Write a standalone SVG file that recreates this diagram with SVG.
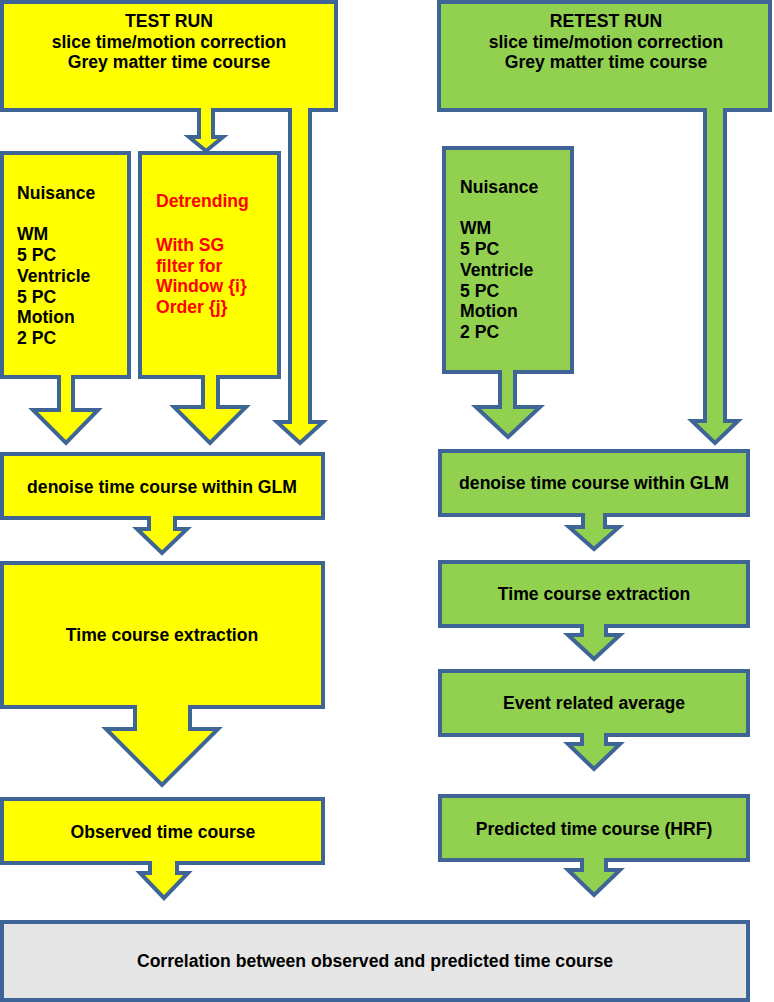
<svg xmlns="http://www.w3.org/2000/svg" width="774" height="1002" viewBox="0 0 774 1002">
<style>
  .box{stroke:#3f6597;stroke-width:4;stroke-linejoin:miter}
  .y{fill:#ffff00}
  .g{fill:#92d050}
  .gr{fill:#e6e6e6}
  text{font-family:"Liberation Sans",Arial,sans-serif;font-weight:bold;font-size:17.6px;fill:#000}
  .c{text-anchor:middle}
  .red{fill:#ff0000}
  .arr{stroke:#3f6597;stroke-width:4;stroke-linejoin:miter;stroke-miterlimit:10}
</style>
<rect x="0" y="0" width="774" height="1002" fill="#ffffff"/>

<g id="test-run">
  <rect class="box y" x="2" y="2" width="334" height="108"/>
  <text class="c" x="169" y="27">TEST RUN</text>
  <text class="c" x="169" y="48">slice time/motion correction</text>
  <text class="c" x="169" y="68">Grey matter time course</text>
</g>
<g id="nuisance-test">
  <rect class="box y" x="2" y="153" width="127" height="224"/>
  <text x="17" y="199">Nuisance</text>
  <text x="17" y="240">WM</text>
  <text x="17" y="261">5 PC</text>
  <text x="17" y="282">Ventricle</text>
  <text x="17" y="303">5 PC</text>
  <text x="17" y="323">Motion</text>
  <text x="17" y="344">2 PC</text>
</g>
<g id="detrending">
  <rect class="box y" x="140" y="153" width="139" height="224"/>
  <text class="red" x="156" y="207">Detrending</text>
  <text class="red" x="156" y="251">With SG</text>
  <text class="red" x="156" y="272">filter for</text>
  <text class="red" x="156" y="292">Window {i}</text>
  <text class="red" x="156" y="313">Order {j}</text>
</g>
<g id="denoise-test">
  <rect class="box y" x="2" y="454" width="321" height="64"/>
  <text class="c" x="162" y="493">denoise time course within GLM</text>
</g>
<g id="extraction-test">
  <rect class="box y" x="2" y="563" width="321" height="144"/>
  <text class="c" x="162" y="641">Time course extraction</text>
</g>
<g id="observed">
  <rect class="box y" x="2" y="799" width="321" height="64"/>
  <text class="c" x="163" y="838">Observed time course</text>
</g>

<g id="retest-run">
  <rect class="box g" x="439" y="2" width="331" height="108"/>
  <text class="c" x="606" y="27">RETEST RUN</text>
  <text class="c" x="606" y="48">slice time/motion correction</text>
  <text class="c" x="606" y="68">Grey matter time course</text>
</g>
<g id="nuisance-retest">
  <rect class="box g" x="444" y="148" width="128" height="224"/>
  <text x="460" y="193">Nuisance</text>
  <text x="460" y="234">WM</text>
  <text x="460" y="255">5 PC</text>
  <text x="460" y="276">Ventricle</text>
  <text x="460" y="297">5 PC</text>
  <text x="460" y="317">Motion</text>
  <text x="460" y="338">2 PC</text>
</g>
<g id="denoise-retest">
  <rect class="box g" x="440" y="451" width="308" height="64"/>
  <text class="c" x="594" y="489">denoise time course within GLM</text>
</g>
<g id="extraction-retest">
  <rect class="box g" x="440" y="562" width="308" height="64"/>
  <text class="c" x="594" y="600">Time course extraction</text>
</g>
<g id="event-average">
  <rect class="box g" x="440" y="671" width="308" height="64"/>
  <text class="c" x="594" y="709">Event related average</text>
</g>
<g id="predicted">
  <rect class="box g" x="440" y="796" width="308" height="64"/>
  <text class="c" x="594" y="835">Predicted time course (HRF)</text>
</g>

<g id="correlation">
  <rect class="box gr" x="2" y="922" width="746" height="78"/>
  <text class="c" x="375" y="967">Correlation between observed and predicted time course</text>
</g>

<g id="connectors">
  <path class="arr y" d="M199 108 V137 H189 L206 151 L223 137 H213 V108"/>
  <path class="arr y" d="M290 108 V422 H277 L300 443 L323 422 H310 V108"/>
  <path class="arr y" d="M59 375 V410 H33 L66 443 L98 410 H73 V375"/>
  <path class="arr y" d="M203 375 V407 H174 L210 443 L246 407 H218 V375"/>
  <path class="arr y" d="M149 516 V529 H137 L162 553 L187 529 H175 V516"/>
  <path class="arr y" d="M135 705 V729 H106 L162 785 L218 729 H190 V705"/>
  <path class="arr y" d="M150 861 V873 H140 L164 898 L188 873 H177 V861"/>

  <path class="arr g" d="M705 108 V421 H692 L715 443 L738 421 H725 V108"/>
  <path class="arr g" d="M500 370 V407 H476 L508 437 L540 407 H515 V370"/>
  <path class="arr g" d="M583 513 V527 H569 L594 549 L619 527 H605 V513"/>
  <path class="arr g" d="M582 624 V635 H568 L594 659 L620 635 H606 V624"/>
  <path class="arr g" d="M582 733 V744 H568 L594 769 L620 744 H606 V733"/>
  <path class="arr g" d="M582 858 V870 H568 L594 895 L620 870 H606 V858"/>
</g>
</svg>
